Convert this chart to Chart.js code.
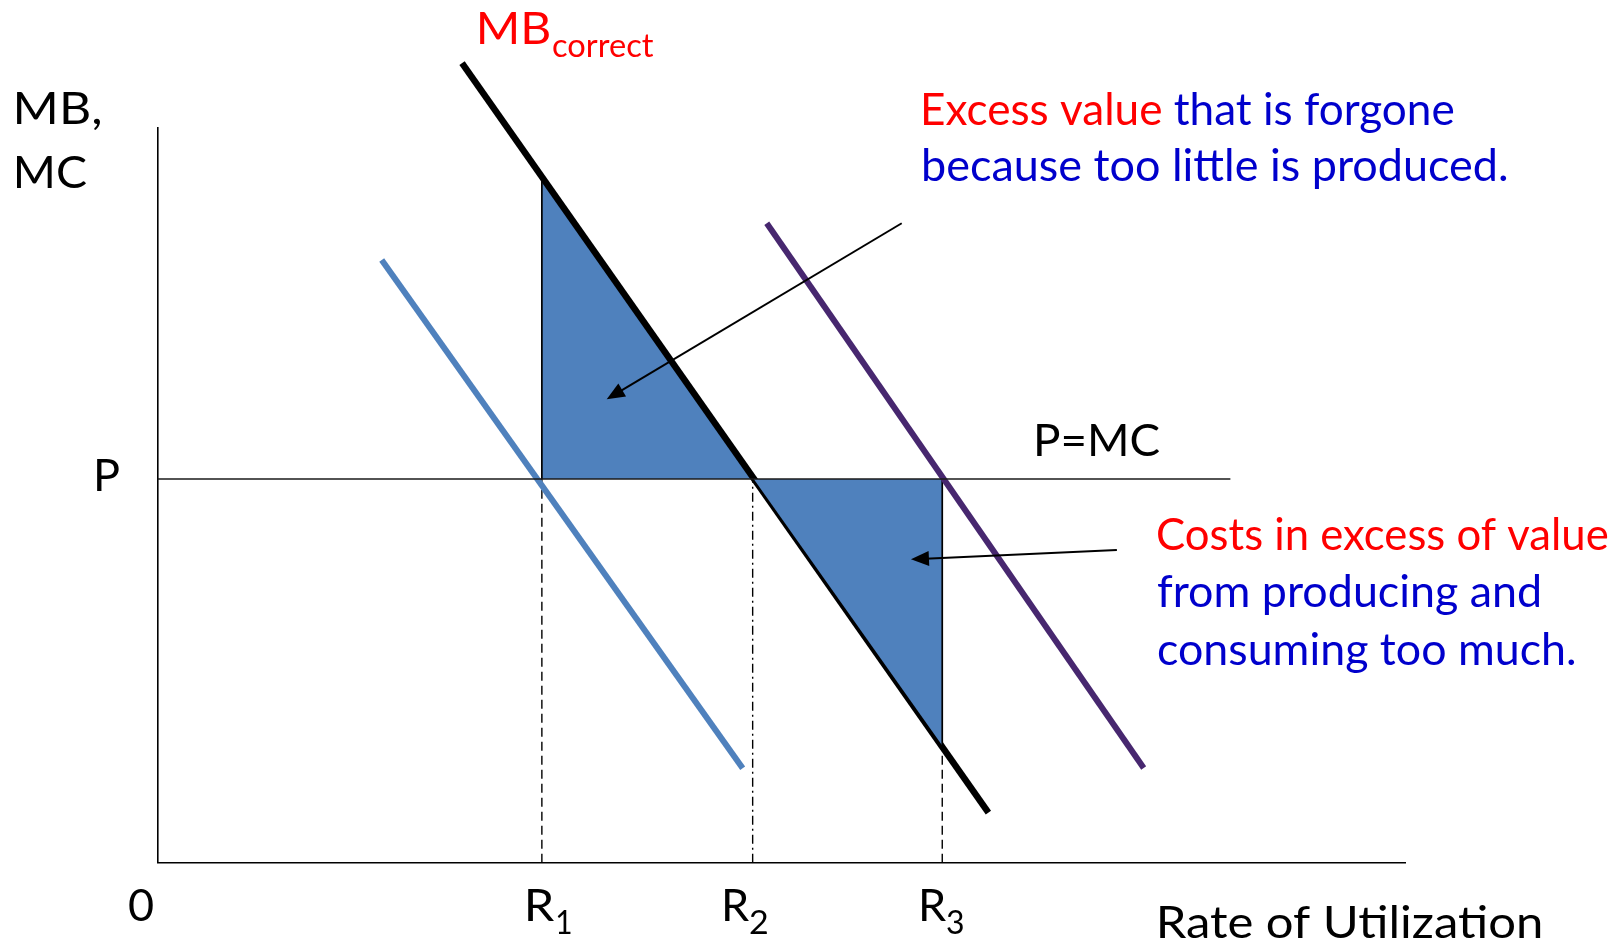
<!DOCTYPE html>
<html>
<head>
<meta charset="utf-8">
<script src="https://cdn.jsdelivr.net/npm/chart.js@4.4.1/dist/chart.umd.min.js"></script>
<style>
  html, body { margin: 0; padding: 0; background: #ffffff; }
  #wrap { width: 1623px; height: 944px; position: relative; }
</style>
</head>
<body>
<div id="wrap"><canvas id="c" width="1623" height="944"></canvas></div>
<script>
// ---------------- data (economic units: quantity 0..100, price 0..100) ----------------
const xTickLabels = ['0', 'R1', 'R2', 'R3'];
const rValues = [0, 30.8, 47.7, 62.9];          // 0, R1, R2, R3
const priceP = 52.2;                              // P = MC level
const pLineX = [0, 86];                           // extent of P=MC line
const mbCorrectX = [24.4, 66.6];
const mbCorrectY = [108.8, 6.8];
const mbLowX = [17.96, 46.9];                     // blue (under-valued MB)
const mbLowY = [82.0, 12.84];
const mbHighX = [48.83, 79.05];                   // purple (over-valued MB)
const mbHighY = [87.0, 12.88];
const mbAtR1 = 93.3;                              // MB_correct at R1
const mbAtR3 = 15.74;                             // MB_correct at R3
const arrowForgoneX = [59.65, 36.0];
const arrowForgoneY = [87.0, 63.05];
const arrowExcessX = [76.9, 60.39];
const arrowExcessY = [42.54, 41.28];

// ---------------- helpers ----------------
const pts = (xs, ys) => xs.map((x, i) => ({ x, y: ys[i] }));
const RED = '#FF0000', BLUE = '#0000CC', FONT = 'Lato';

function lineDs(label, data, color, width, order, extra) {
  return Object.assign({
    label, data, borderColor: color, borderWidth: width, pointRadius: 0,
    fill: false, tension: 0, clip: false, order
  }, extra || {});
}

const datasets = [
  lineDs('P=MC', pts(pLineX, [priceP, priceP]), '#1a1a1a', 1.6, 1),
  lineDs('MB low', pts(mbLowX, mbLowY), '#4F81BD', 6, 2),
  lineDs('MB high', pts(mbHighX, mbHighY), '#47276F', 6, 2),
  lineDs('R1 guide', pts([rValues[1], rValues[1]], [0, priceP]), '#000', 1.4, 3, { borderDash: [9, 5] }),
  lineDs('R2 guide', pts([rValues[2], rValues[2]], [0, priceP]), '#000', 1.4, 3, { borderDash: [9, 4, 2, 4] }),
  lineDs('R3 guide', pts([rValues[3], rValues[3]], [0, mbAtR3]), '#000', 1.4, 3, { borderDash: [9, 5] }),
  lineDs('R1 edge', pts([rValues[1], rValues[1]], [priceP, mbAtR1]), '#000', 1.7, 3),
  lineDs('R3 edge', pts([rValues[3], rValues[3]], [mbAtR3, priceP]), '#000', 1.7, 4),
  lineDs('Excess cost', pts([rValues[2], rValues[3]], [priceP, mbAtR3]), '#000', 1.7, 4,
    { fill: { value: priceP }, backgroundColor: '#4F81BD' }),
  lineDs('MB correct', pts(mbCorrectX, mbCorrectY), '#000', 6.5, 5),
  lineDs('Forgone value', pts([rValues[1], rValues[2]], [mbAtR1, priceP]), 'rgba(0,0,0,0)', 0, 6,
    { fill: { value: priceP }, backgroundColor: '#4F81BD' })
];

// ---------------- annotation texts (pixel layout) ----------------
const texts = [
  { parts: [['MB,', '#000']], x: 17, y: 124, size: 45, w: 83 },
  { parts: [['MC', '#000']], x: 17, y: 188, size: 45, w: 70 },
  { parts: [['MB', RED]], x: 480, y: 44, size: 45, w: 69 },
  { parts: [['correct', RED]], x: 553, y: 57, size: 32, w: 101 },
  { parts: [['Excess value ', RED], ['that is forgone', BLUE]], x: 924, y: 125, size: 45, w: 530 },
  { parts: [['because too little is produced.', BLUE]], x: 924, y: 181, size: 45, w: 583 },
  { parts: [['Costs in excess of value', RED]], x: 1158, y: 550, size: 45, w: 450 },
  { parts: [['from producing and', BLUE]], x: 1158, y: 607, size: 45, w: 382 },
  { parts: [['consuming too much.', BLUE]], x: 1158, y: 665, size: 45, w: 417 },
  { parts: [['P', '#000']], x: 97, y: 491, size: 45, w: 22 },
  { parts: [['P=MC', '#000']], x: 1037, y: 456, size: 45, w: 123 },
  { parts: [[xTickLabels[0], '#000']], x: 129, y: 921, size: 45, w: 24 },
  { parts: [['R', '#000']], x: 528, y: 921, size: 45, w: 26 },
  { parts: [[xTickLabels[1].slice(1), '#000']], x: 557, y: 934, size: 32, w: 14 },
  { parts: [['R', '#000']], x: 725, y: 921, size: 45, w: 24 },
  { parts: [[xTickLabels[2].slice(1), '#000']], x: 750, y: 934, size: 32, w: 17 },
  { parts: [['R', '#000']], x: 922, y: 921, size: 45, w: 24 },
  { parts: [[xTickLabels[3].slice(1), '#000']], x: 947, y: 934, size: 32, w: 16 },
  { parts: [['Rate of Utilization', '#000']], x: 1160, y: 938, size: 45, w: 381 }
];

function drawText(ctx, t) {
  ctx.save();
  ctx.font = t.size + 'px ' + FONT;
  ctx.textBaseline = 'alphabetic';
  ctx.textAlign = 'left';
  const full = t.parts.map(p => p[0]).join('');
  const m = ctx.measureText(full);
  const ink = m.actualBoundingBoxLeft + m.actualBoundingBoxRight;
  const sx = t.w ? t.w / ink : 1;
  ctx.translate(t.x + m.actualBoundingBoxLeft * sx, t.y);
  ctx.scale(sx, 1);
  let cx = 0;
  for (const [s, c] of t.parts) {
    ctx.fillStyle = c;
    ctx.fillText(s, cx, 0);
    cx += ctx.measureText(s).width;
  }
  ctx.restore();
}

function drawArrow(ctx, chart, xs, ys) {
  const sx = chart.scales.x, sy = chart.scales.y;
  const x0 = sx.getPixelForValue(xs[0]), y0 = sy.getPixelForValue(ys[0]);
  const x1 = sx.getPixelForValue(xs[1]), y1 = sy.getPixelForValue(ys[1]);
  const ang = Math.atan2(y1 - y0, x1 - x0);
  const L = 18, H = 7.5;
  ctx.save();
  ctx.strokeStyle = '#000';
  ctx.fillStyle = '#000';
  ctx.lineWidth = 2;
  ctx.beginPath();
  ctx.moveTo(x0, y0);
  ctx.lineTo(x1 - Math.cos(ang) * L * 0.8, y1 - Math.sin(ang) * L * 0.8);
  ctx.stroke();
  ctx.beginPath();
  ctx.moveTo(x1, y1);
  ctx.lineTo(x1 - Math.cos(ang) * L + Math.sin(ang) * H, y1 - Math.sin(ang) * L - Math.cos(ang) * H);
  ctx.lineTo(x1 - Math.cos(ang) * L - Math.sin(ang) * H, y1 - Math.sin(ang) * L + Math.cos(ang) * H);
  ctx.closePath();
  ctx.fill();
  ctx.restore();
}

const annotPlugin = {
  id: 'annot',
  afterDatasetsDraw(chart) {
    const ctx = chart.ctx;
    drawArrow(ctx, chart, arrowForgoneX, arrowForgoneY);
    drawArrow(ctx, chart, arrowExcessX, arrowExcessY);
  },
  afterDraw(chart) {
    const ctx = chart.ctx;
    texts.forEach(t => drawText(ctx, t));
  }
};

function build() {
  new Chart(document.getElementById('c'), {
    type: 'line',
    data: { datasets },
    options: {
      responsive: false,
      animation: false,
      devicePixelRatio: 1,
      layout: { padding: { left: 157.7, right: 218, top: 127.7, bottom: 81.3 } },
      plugins: { legend: { display: false }, tooltip: { enabled: false }, filler: { propagate: false } },
      elements: { line: { borderCapStyle: 'butt' } },
      scales: {
        x: {
          type: 'linear', min: 0, max: 100,
          grid: { display: false, drawTicks: false },
          ticks: { display: false },
          border: { display: true, color: '#000', width: 1.6 },
          afterFit(s) { s.height = 0; }
        },
        y: {
          type: 'linear', min: 0, max: 100,
          grid: { display: false, drawTicks: false },
          ticks: { display: false },
          border: { display: true, color: '#000', width: 1.6 },
          afterFit(s) { s.width = 0; }
        }
      }
    },
    plugins: [annotPlugin]
  });
}

if (document.fonts && document.fonts.load) {
  Promise.all([document.fonts.load('45px Lato'), document.fonts.load('32px Lato')]).then(build, build);
} else { build(); }
</script>
</body>
</html>
